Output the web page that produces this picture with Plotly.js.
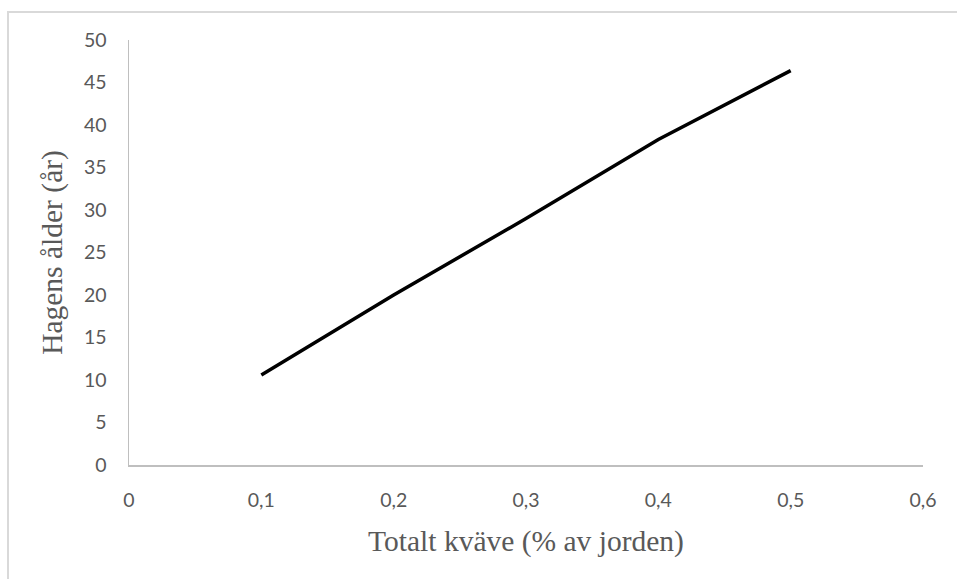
<!DOCTYPE html>
<html>
<head>
<meta charset="utf-8">
<script src="https://cdn.plot.ly/plotly-3.0.1.min.js"></script>
<style>
  html, body { margin: 0; padding: 0; background: #ffffff; }
  #wrap { position: relative; width: 957px; height: 579px; }
  #chart { position: absolute; left: 0; top: 0; width: 957px; height: 579px; }
  #frame { position: absolute; left: 7px; top: 11px; width: 960px; height: 580px;
           border-left: 2px solid #d9d9d9; border-top: 2px solid #d9d9d9; pointer-events: none; }
</style>
</head>
<body>
<div id="wrap">
  <div id="chart"></div>
  <div id="frame"></div>
</div>
<script>
// Data
const nitrogen = [0.1, 0.2, 0.3, 0.4, 0.5];      // Totalt kväve (% av jorden)
const age = [10.6, 20.0, 29.0, 38.3, 46.4];      // Hagens ålder (år)
const xTitle = 'Totalt kväve (% av jorden)';
const yTitle = 'Hagens ålder (år)';

const trace = {
  x: nitrogen,
  y: age,
  type: 'scatter',
  mode: 'lines',
  line: { color: '#000000', width: 3.5 },
  hoverinfo: 'skip'
};

const tickFont = { family: 'Lato, "Open Sans", sans-serif', size: 19.5, color: '#595959' };
const titleFont = { family: '"Liberation Serif", "Times New Roman", serif', size: 29.5, color: '#595959' };

const layout = {
  width: 957,
  height: 579,
  margin: { l: 129, r: 34, t: 40, b: 114 },
  paper_bgcolor: '#ffffff',
  plot_bgcolor: '#ffffff',
  separators: ', ',
  showlegend: false,
  xaxis: {
    range: [0, 0.6],
    dtick: 0.1,
    tick0: 0,
    showgrid: false,
    zeroline: false,
    showline: true,
    linecolor: '#bfbfbf',
    linewidth: 1.5,
    ticks: '',
    tickfont: tickFont,
    ticklabelstandoff: 17,
    title: { text: xTitle, font: titleFont, standoff: 20 }
  },
  yaxis: {
    range: [0, 50],
    dtick: 5,
    tick0: 0,
    showgrid: false,
    zeroline: false,
    showline: true,
    linecolor: '#bfbfbf',
    linewidth: 1.5,
    ticks: '',
    tickfont: tickFont,
    ticklabelstandoff: 17,
    title: { text: yTitle, font: titleFont, standoff: 12 }
  }
};

Plotly.newPlot('chart', [trace], layout, { staticPlot: true, displayModeBar: false });
</script>
</body>
</html>
